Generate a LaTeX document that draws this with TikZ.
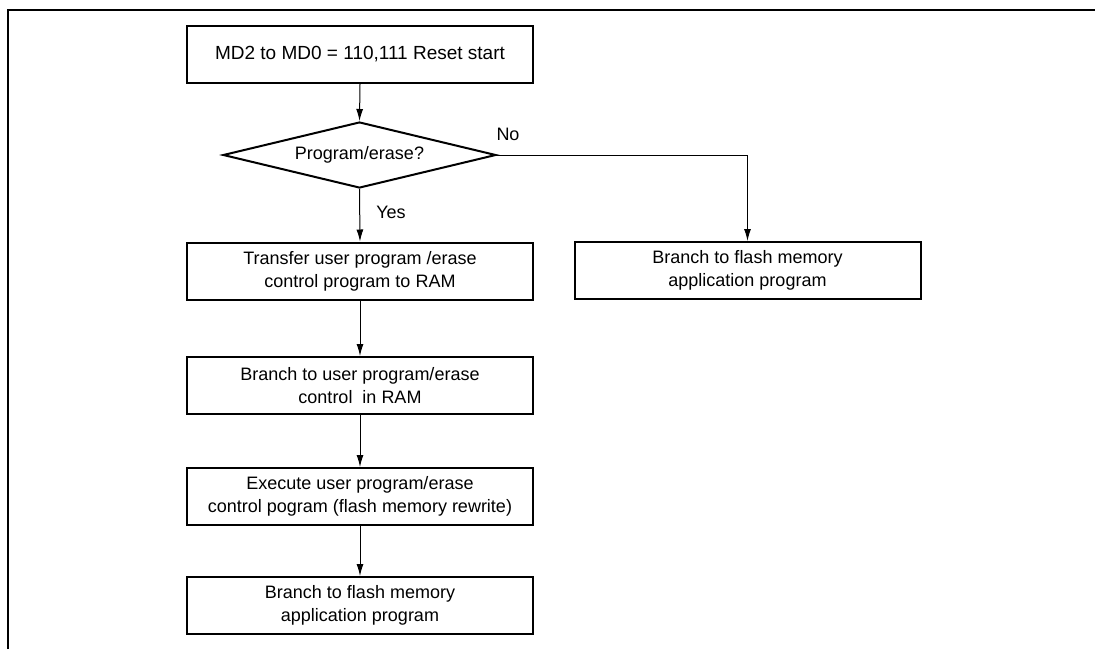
\documentclass[tikz,border=0pt]{standalone}
\usepackage{fontspec}
\setmainfont{Liberation Sans}
\usetikzlibrary{arrows.meta,shapes.geometric}
\begin{document}
\begin{tikzpicture}[x=1pt,y=-1pt,
  every node/.style={font=\fontsize{18}{23}\selectfont},
  procbox/.style={draw,line width=2pt,minimum width=346pt,minimum height=57pt,inner sep=0pt,align=center},
  decide/.style={draw,diamond,line width=2pt,minimum width=273pt,minimum height=66pt,shape aspect=4.14,inner sep=0pt},
  conn/.style={line width=1pt,-{Latex[length=12pt,width=7pt]}},
  lbl/.style={inner sep=0pt}]
\useasboundingbox (0,0) rectangle (1095,649);
\draw[line width=2.7pt] (8,649) -- (8,10) -- (1095,10);
\node[procbox,font=\fontsize{19}{23}\selectfont] (b1) at (360,54.5) {MD2 to MD0 = 110,111 Reset start};
\node[decide] (d) at (359.5,155) {Program/erase?};
\node[procbox] (b2) at (360,271) {Transfer user program /erase\\control program to RAM};
\node[procbox] (rb) at (747.5,270.5) {Branch to flash memory\\application program};
\node[procbox] (b3) at (360,385.5) {Branch to user program/erase\\control\ \ in RAM};
\node[procbox] (b4) at (360,496.5) {Execute user program/erase\\control pogram (flash memory rewrite)};
\node[procbox] (b5) at (360,605.5) {Branch to flash memory\\application program};
\node[lbl] (no) at (508,134) {No};
\node[lbl] (yes) at (391,212) {Yes};
\draw[conn] (b1.south) -- (d.north);
\draw[conn] (d.south) -- (b2.north);
\draw[conn] (d.east) -| (rb.north);
\draw[conn] (b2.south) -- (b3.north);
\draw[conn] (b3.south) -- (b4.north);
\draw[conn] (b4.south) -- (b5.north);
\end{tikzpicture}
\end{document}
